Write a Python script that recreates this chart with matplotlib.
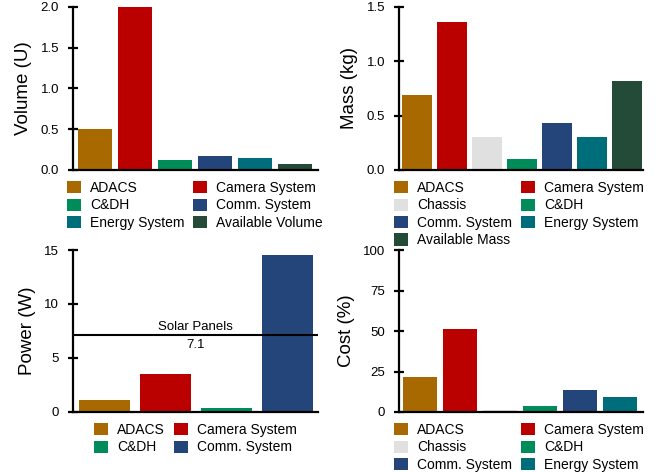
import matplotlib
matplotlib.use("Agg")
import matplotlib.pyplot as plt
from matplotlib.patches import Patch

plt.rcParams['font.family'] = ['Liberation Sans', 'DejaVu Sans']

COLORS = {
    "ADACS": "#a86a00",
    "Camera System": "#bb0000",
    "Chassis": "#e0e0e0",
    "C&DH": "#008c5a",
    "Comm. System": "#24457a",
    "Energy System": "#006e7a",
    "Available Volume": "#244a38",
    "Available Mass": "#244a38",
}

vol_cats = ["ADACS", "Camera System", "C&DH", "Comm. System", "Energy System", "Available Volume"]
vol_vals = [0.5, 2.0, 0.12, 0.17, 0.15, 0.075]

mass_cats = ["ADACS", "Camera System", "Chassis", "C&DH", "Comm. System", "Energy System", "Available Mass"]
mass_vals = [0.69, 1.36, 0.30, 0.10, 0.43, 0.30, 0.82]

pow_cats = ["ADACS", "Camera System", "C&DH", "Comm. System"]
pow_vals = [1.1, 3.55, 0.4, 14.5]
solar_panels = 7.1

cost_cats = ["ADACS", "Camera System", "Chassis", "C&DH", "Comm. System", "Energy System"]
cost_vals = [21.6, 51.2, 1.0, 3.8, 13.7, 9.4]

W, H = 659, 472
fig = plt.figure(figsize=(W / 100, H / 100), dpi=100)


def ax_at(x0, y0, x1, y1):
    return fig.add_axes([x0 / W, 1 - y1 / H, (x1 - x0) / W, (y1 - y0) / H])


def style(ax, ylabel, yticks, ylim, xlim, ticklabels):
    for s in ["top", "right"]:
        ax.spines[s].set_visible(False)
    for s in ["left", "bottom"]:
        ax.spines[s].set_linewidth(1.6)
    ax.set_xticks([])
    ax.set_yticks(yticks)
    ax.set_yticklabels(ticklabels)
    ax.tick_params(axis='y', direction='inout', length=7, width=1.6, labelsize=9.5, pad=6.5)
    ax.set_ylim(*ylim)
    ax.set_xlim(*xlim)
    ax.set_ylabel(ylabel, fontsize=13.5, labelpad=6)


def bars(ax, cats, vals, width):
    ax.bar(range(len(cats)), vals, width=width, color=[COLORS[c] for c in cats], zorder=2)


def legend(cats, x, y):
    # matplotlib fills legend columns first; reorder so entries read row by row
    order = cats[0::2] + cats[1::2]
    handles = [Patch(facecolor=COLORS[c], edgecolor='none') for c in order]
    fig.legend(handles, order, loc='upper left', bbox_to_anchor=(x / W, 1 - y / H),
               ncol=2, frameon=False, fontsize=10, handlelength=1.0, handleheight=1.0,
               handletextpad=0.65, columnspacing=0.65, borderpad=0, borderaxespad=0,
               labelspacing=0.25)


# Volume
ax1 = ax_at(73, 7, 318, 170)
bars(ax1, vol_cats, vol_vals, 0.85)
style(ax1, "Volume (U)", [0, 0.5, 1.0, 1.5, 2.0], (0, 2.0), (-0.55, 5.58),
      ["0.0", "0.5", "1.0", "1.5", "2.0"])
legend(vol_cats, 67, 181)

# Mass
ax2 = ax_at(399, 7, 643, 170)
bars(ax2, mass_cats, mass_vals, 0.86)
style(ax2, "Mass (kg)", [0, 0.5, 1.0, 1.5], (0, 1.5), (-0.51, 6.46),
      ["0.0", "0.5", "1.0", "1.5"])
legend(mass_cats, 394, 181)

# Power
ax3 = ax_at(73, 250, 318, 412)
bars(ax3, pow_cats, pow_vals, 0.84)
style(ax3, "Power (W)", [0, 5, 10, 15], (0, 15), (-0.52, 3.5),
      ["0", "5", "10", "15"])
ax3.axhline(solar_panels, color='black', lw=1.5, zorder=3)
xm = sum(ax3.get_xlim()) / 2
ax3.text(xm, solar_panels + 0.25, "Solar Panels", ha='center', va='bottom', fontsize=9.5)
ax3.text(xm, solar_panels - 0.35, f"{solar_panels}", ha='center', va='top', fontsize=9.5)
legend(pow_cats, 94, 423)

# Cost
ax4 = ax_at(399, 250, 643, 412)
bars(ax4, cost_cats, cost_vals, 0.85)
style(ax4, "Cost (%)", [0, 25, 50, 75, 100], (0, 100), (-0.525, 5.575),
      ["0", "25", "50", "75", "100"])
legend(cost_cats, 394, 423)

fig.savefig("out.png", dpi=100)
